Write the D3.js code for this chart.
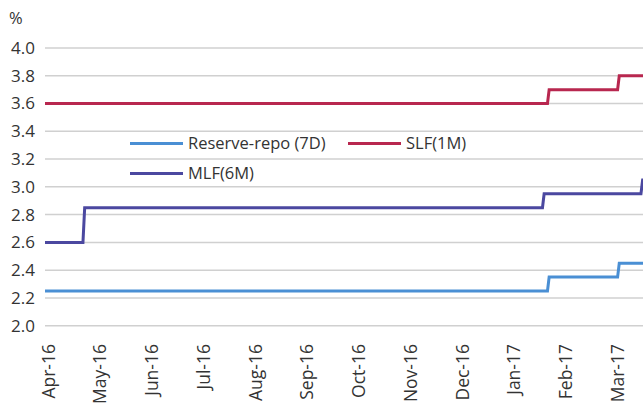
<!DOCTYPE html>
<html>
<head>
<meta charset="utf-8">
<script src="https://cdn.jsdelivr.net/npm/d3@7"></script>
<style>
  html, body { margin: 0; padding: 0; background: #fff; }
  svg text { font-family: "Open Sans", "Noto Sans", sans-serif; fill: #333; }
</style>
</head>
<body>
<svg id="chart" width="643" height="405"></svg>
<script>
// ---- data ----
const monthLabels = ["Apr-16","May-16","Jun-16","Jul-16","Aug-16","Sep-16","Oct-16","Nov-16","Dec-16","Jan-17","Feb-17","Mar-17"];
const monthStarts = ["2016-04-01","2016-05-01","2016-06-01","2016-07-01","2016-08-01","2016-09-01","2016-10-01","2016-11-01","2016-12-01","2017-01-01","2017-02-01","2017-03-01","2017-04-01"];
const yTicks = [2.0, 2.2, 2.4, 2.6, 2.8, 3.0, 3.2, 3.4, 3.6, 3.8, 4.0];

const repoDates = ["2016-04-01","2017-01-23","2017-01-24","2017-03-03","2017-03-04","2017-03-19"];
const repoValues = [2.25, 2.25, 2.35, 2.35, 2.45, 2.45];

const slfDates = ["2016-04-01","2017-01-23","2017-01-24","2017-03-03","2017-03-04","2017-03-19"];
const slfValues = [3.60, 3.60, 3.70, 3.70, 3.80, 3.80];

const mlfDates = ["2016-04-01","2016-04-23","2016-04-24","2017-01-20","2017-01-21","2017-03-17","2017-03-18","2017-03-19"];
const mlfValues = [2.60, 2.60, 2.85, 2.85, 2.95, 2.95, 3.05, 3.05];

const seriesNames = ["Reserve-repo (7D)", "SLF(1M)", "MLF(6M)"];
const seriesColors = ["#4a8fd4", "#b8274f", "#4b48a0"];

// ---- drawing ----
const parse = d3.timeParse("%Y-%m-%d");
const svg = d3.select("#chart");

// month-based axis: each month gets an equal slot
const monthStep = 51.75;
const x = d3.scaleTime()
  .domain(monthStarts.map(parse))
  .range(monthStarts.map((d, i) => 45 + i * monthStep));
const y = d3.scaleLinear().domain([2.0, 4.0]).range([325.7, 48]);

// gridlines
svg.append("g").selectAll("line").data(yTicks).join("line")
  .attr("x1", 45).attr("x2", 643)
  .attr("y1", d => y(d)).attr("y2", d => y(d))
  .attr("stroke", "#d0d0d0").attr("stroke-width", 1.5);

// y labels
svg.append("g").selectAll("text").data(yTicks).join("text")
  .attr("x", 35).attr("y", d => y(d))
  .attr("dy", "0.35em")
  .attr("text-anchor", "end")
  .attr("font-size", 17)
  .text(d => d.toFixed(1));

svg.append("text").attr("x", 9).attr("y", 24).attr("font-size", 16.5).text("%");

// x labels
svg.append("g").selectAll("text").data(monthLabels).join("text")
  .attr("transform", (d, i) => `translate(${x(parse(monthStarts[i])) + 9.5},344) rotate(-90)`)
  .attr("text-anchor", "end")
  .attr("font-size", 17.5)
  .text(d => d);

// lines
const series = [
  {dates: repoDates, values: repoValues},
  {dates: slfDates, values: slfValues},
  {dates: mlfDates, values: mlfValues}
];
const line = d3.line().x(d => x(d[0])).y(d => y(d[1]));
series.forEach((s, i) => {
  const pts = s.dates.map((d, j) => [parse(d), s.values[j]]);
  svg.append("path").datum(pts)
    .attr("d", line)
    .attr("fill", "none")
    .attr("stroke", seriesColors[i])
    .attr("stroke-width", 3);
});

// legend
const legendPos = [[130, 143.5], [348, 143.5], [130, 173.5]];
seriesNames.forEach((name, i) => {
  const [lx, ly] = legendPos[i];
  svg.append("line")
    .attr("x1", lx).attr("x2", lx + 53).attr("y1", ly).attr("y2", ly)
    .attr("stroke", seriesColors[i]).attr("stroke-width", 3);
  svg.append("text")
    .attr("x", lx + 58).attr("y", ly).attr("dy", "0.35em")
    .attr("font-size", 16.5)
    .text(name);
});
</script>
</body>
</html>
